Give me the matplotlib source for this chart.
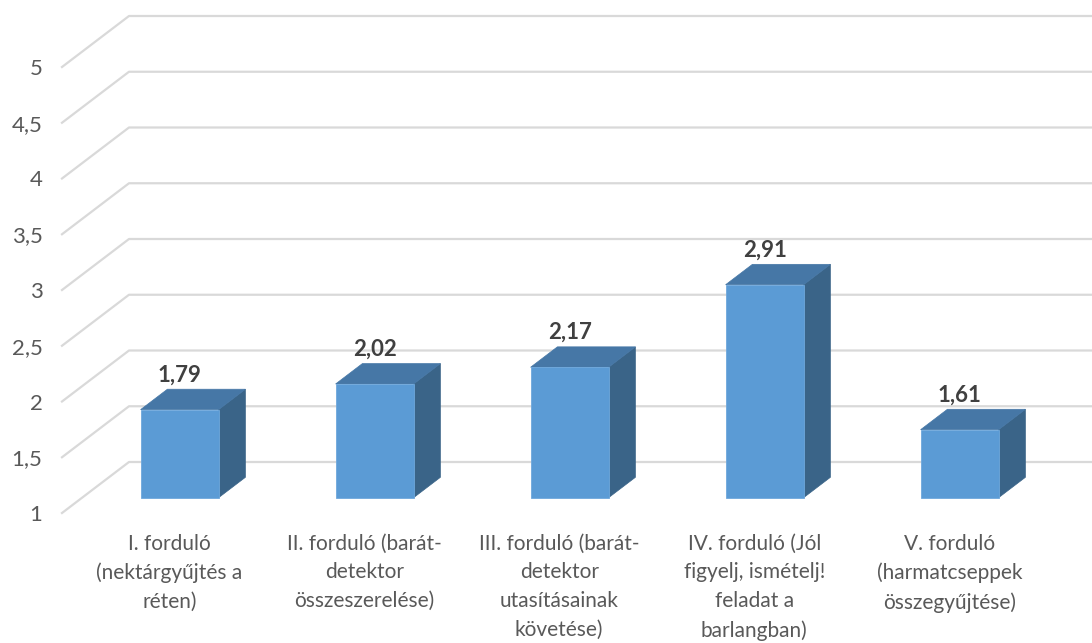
import numpy as np
import matplotlib.pyplot as plt
from matplotlib.patches import Polygon

plt.rcParams['font.family'] = ['Lato', 'DejaVu Sans']

categories = [
    "I. forduló\n(nektárgyűjtés a\nréten)",
    "II. forduló (barát-\ndetektor\nösszeszerelése)",
    "III. forduló (barát-\ndetektor\nutasításainak\nkövetése)",
    "IV. forduló (Jól\nfigyelj, ismételj!\nfeladat a\nbarlangban)",
    "V. forduló\n(harmatcseppek\nösszegyűjtése)",
]
values = [1.79, 2.02, 2.17, 2.91, 1.61]
value_labels = ["1,79", "2,02", "2,17", "2,91", "1,61"]
y_ticks = [1, 1.5, 2, 2.5, 3, 3.5, 4, 4.5, 5]
y_tick_labels = ["1", "1,5", "2", "2,5", "3", "3,5", "4", "4,5", "5"]

W, H = 1092, 643
fig = plt.figure(figsize=(W / 100, H / 100), dpi=100)
ax = fig.add_axes([62 / W, (H - 513) / H, 975 / W, 446 / H])
ax.set_xlim(-0.5, len(values) - 0.5)
ax.set_ylim(1, 5)
for s in ax.spines.values():
    s.set_visible(False)

# depth vector of the fake 3D box, in data units
DX, DY = 67 / 195, 51 / 111.5
bar_w = 0.4
d0, d1 = 0.3, 0.7  # bar sits between these fractions of the depth

grid_c = "#D9D9D9"
for v in y_ticks:
    ax.plot([-0.5, -0.5 + DX, len(values) + DX], [v, v + DY, v + DY],
            color=grid_c, lw=1.6, clip_on=False, zorder=1)

front_c, top_c, side_c = "#5B9BD5", "#4677A6", "#3A6488"
for i, v in enumerate(values):
    x0 = i - bar_w / 2 + d0 * DX
    x1 = x0 + bar_w
    yb = 1 + d0 * DY
    yt = v + d0 * DY
    ddx, ddy = (d1 - d0) * DX, (d1 - d0) * DY
    front = Polygon([(x0, yb), (x1, yb), (x1, yt), (x0, yt)], closed=True,
                    facecolor=front_c, edgecolor="#6FA8DC", lw=0.6, zorder=3, clip_on=False)
    side = Polygon([(x1, yb), (x1 + ddx, yb + ddy), (x1 + ddx, yt + ddy), (x1, yt)],
                   closed=True, facecolor=side_c, edgecolor=side_c, lw=0.5, zorder=2, clip_on=False)
    top = Polygon([(x0, yt), (x1, yt), (x1 + ddx, yt + ddy), (x0 + ddx, yt + ddy)],
                  closed=True, facecolor=top_c, edgecolor=top_c, lw=0.5, zorder=2, clip_on=False)
    for p in (side, top, front):
        ax.add_patch(p)
    ax.annotate(value_labels[i], (i + d0 * DX, v + d1 * DY), xytext=(0, 8),
                textcoords="offset pixels", ha="center", va="baseline",
                fontsize=16, fontweight="bold", color="#404040", zorder=5)

ax.set_yticks(y_ticks, y_tick_labels)
ax.set_xticks(np.arange(len(values)) + 0.05, categories)
ax.tick_params(axis="y", length=0, pad=14, labelsize=16, labelcolor="#595959")
ax.tick_params(axis="x", length=0, pad=15, labelsize=15, labelcolor="#595959")
for lab in ax.get_xticklabels():
    lab.set_linespacing(1.54)

fig.savefig("out.png", dpi=100)
